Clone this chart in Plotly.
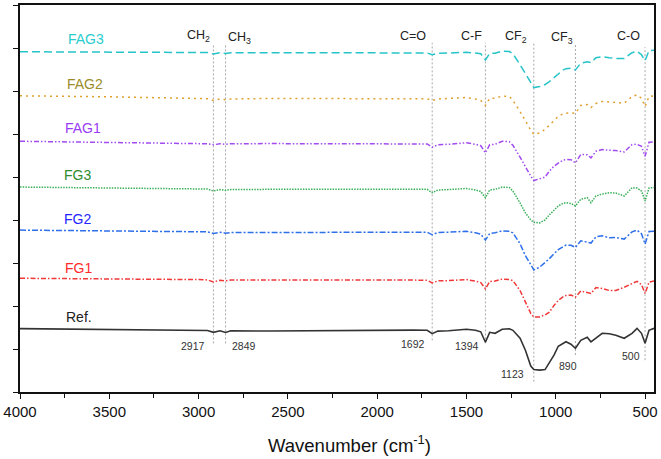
import plotly.graph_objects as go

# Wavenumber grid (cm-1)
wn = [4000, 3600, 3500, 3000, 2950, 2917, 2880, 2849, 2820, 2600, 2200, 2000, 1800, 1720,
      1692, 1660, 1600, 1500, 1450, 1420, 1394, 1370, 1340, 1300, 1260, 1240, 1200, 1170,
      1140, 1123, 1090, 1060, 1036, 1010, 986, 960, 943, 915, 890, 860, 824, 803, 775, 740,
      700, 664, 617, 573, 545, 520, 500, 478, 450]

ref = [1.474, 1.462, 1.450, 1.435, 1.430, 1.388, 1.423, 1.384, 1.423, 1.418, 1.430, 1.444,
       1.440, 1.435, 1.358, 1.416, 1.423, 1.458, 1.435, 1.400, 1.157, 1.388, 1.365, 1.458,
       1.470, 1.435, 1.249, 0.972, 0.602, 0.521, 0.509, 0.521, 0.694, 0.856, 1.064, 1.134,
       1.168, 1.111, 1.018, 1.203, 1.273, 1.168, 1.249, 1.365, 1.353, 1.319, 1.249, 1.365,
       1.481, 1.365, 1.134, 1.435, 1.481]

fg1 = [2.645, 2.638, 2.631, 2.614, 2.607, 2.561, 2.596, 2.584, 2.603, 2.607, 2.614, 2.607,
       2.603, 2.596, 2.538, 2.584, 2.591, 2.614, 2.580, 2.545, 2.400, 2.568, 2.580, 2.626,
       2.614, 2.591, 2.360, 2.082, 1.828, 1.742, 1.747, 1.793, 1.858, 2.013, 2.129, 2.210,
       2.244, 2.256, 2.205, 2.348, 2.314, 2.291, 2.429, 2.406, 2.360, 2.360, 2.436, 2.522,
       2.575, 2.499, 2.291, 2.552, 2.580]

fg2 = [3.765, 3.753, 3.748, 3.732, 3.725, 3.686, 3.714, 3.695, 3.709, 3.709, 3.714, 3.725,
       3.725, 3.718, 3.656, 3.709, 3.718, 3.737, 3.702, 3.672, 3.533, 3.686, 3.702, 3.748,
       3.737, 3.702, 3.448, 3.170, 2.962, 2.839, 2.904, 3.008, 3.100, 3.216, 3.309, 3.378,
       3.417, 3.413, 3.362, 3.517, 3.494, 3.464, 3.609, 3.633, 3.586, 3.593, 3.556, 3.725,
       3.765, 3.679, 3.441, 3.732, 3.741]

fg3 = [4.766, 4.755, 4.748, 4.727, 4.720, 4.674, 4.708, 4.690, 4.708, 4.713, 4.713, 4.720,
       4.720, 4.713, 4.634, 4.697, 4.708, 4.732, 4.697, 4.662, 4.519, 4.697, 4.713, 4.766,
       4.755, 4.674, 4.396, 4.165, 4.003, 3.945, 3.933, 4.003, 4.118, 4.234, 4.327, 4.385,
       4.403, 4.385, 4.327, 4.482, 4.519, 4.403, 4.558, 4.604, 4.634, 4.627, 4.558, 4.750,
       4.743, 4.674, 4.442, 4.743, 4.755]

fag1 = [5.831, 5.814, 5.807, 5.777, 5.773, 5.750, 5.773, 5.761, 5.773, 5.777, 5.773, 5.773,
        5.773, 5.768, 5.692, 5.750, 5.761, 5.796, 5.761, 5.727, 5.560, 5.750, 5.761, 5.831,
        5.819, 5.738, 5.460, 5.229, 5.020, 4.917, 4.951, 4.998, 5.136, 5.252, 5.322, 5.391,
        5.407, 5.403, 5.328, 5.523, 5.518, 5.444, 5.599, 5.639, 5.622, 5.615, 5.583, 5.754,
        5.761, 5.715, 5.483, 5.807, 5.819]

fag2 = [6.888, 6.872, 6.865, 6.826, 6.819, 6.779, 6.814, 6.796, 6.814, 6.826, 6.830, 6.832,
        6.826, 6.819, 6.779, 6.814, 6.826, 6.849, 6.814, 6.779, 6.663, 6.826, 6.832, 6.883,
        6.872, 6.779, 6.524, 6.293, 6.085, 5.993, 6.027, 6.108, 6.201, 6.317, 6.409, 6.467,
        6.485, 6.490, 6.479, 6.664, 6.687, 6.617, 6.710, 6.756, 6.745, 6.733, 6.717, 6.872,
        6.911, 6.826, 6.640, 6.872, 6.883]

fag3 = [7.913, 7.908, 7.906, 7.897, 7.894, 7.860, 7.890, 7.874, 7.890, 7.890, 7.890, 7.890,
        7.890, 7.885, 7.843, 7.878, 7.883, 7.901, 7.883, 7.867, 7.721, 7.874, 7.878, 7.929,
        7.918, 7.867, 7.612, 7.404, 7.196, 7.080, 7.103, 7.150, 7.219, 7.312, 7.404, 7.485,
        7.520, 7.531, 7.490, 7.647, 7.682, 7.659, 7.774, 7.797, 7.774, 7.758, 7.758, 7.890,
        7.924, 7.843, 7.705, 7.936, 7.948]

series_names = ["Ref.", "FG1", "FG2", "FG3", "FAG1", "FAG2", "FAG3"]
series_values = [ref, fg1, fg2, fg3, fag1, fag2, fag3]
line_colors = ["#333333", "#F03838", "#2E6FEA", "#3CB05A", "#A24BF0", "#E0A030", "#26C4C8"]
text_colors = ["#222222", "#FF2A2A", "#2424FF", "#2E8B2E", "#9A3CF5", "#9C8C2C", "#2ACCCC"]
dashes = ["solid", "5px,2px,1.5px,2px", "6px,2px,2px,2px", "1.5px,1.2px",
          "5px,2px,1.5px,2px,1.5px,2px", "2px,4px", "8px,4px"]
name_x = [3670, 3670, 3676, 3676, 3648, 3637, 3632]
name_y = [1.735, 2.89, 4.03, 5.04, 6.13, 7.17, 8.21]

# Peak markers
peak_wn = [2917, 2849, 1692, 1394, 1123, 890, 500]
peak_line_top = [8.06, 8.06, 8.12, 8.12, 8.10, 8.10, 8.02]
peak_line_bottom = [1.13, 1.13, 1.20, 1.13, 0.24, 0.86, 0.74]
peak_num_x = [3034, 2747, 1801, 1499, 1240, 930, 581]
peak_num_y = [1.07, 1.07, 1.11, 1.064, 0.43, 0.60, 0.84]

group_labels = ["CH<sub>2</sub>", "CH<sub>3</sub>", "C=O", "C-F", "CF<sub>2</sub>", "CF<sub>3</sub>", "C-O"]
group_x = [3000, 2772, 1801, 1471, 1220, 963, 595]
group_y = [8.27, 8.24, 8.28, 8.28, 8.26, 8.24, 8.28]

x_ticks = [4000, 3500, 3000, 2500, 2000, 1500, 1000, 500]

FONT = "Liberation Sans, Arial, sans-serif"

fig = go.Figure()

for i, w in enumerate(peak_wn):
    fig.add_shape(type="line", xref="x", yref="y", x0=w, x1=w,
                  y0=peak_line_bottom[i], y1=peak_line_top[i],
                  line=dict(color="#A8A8A8", width=1, dash="2px,2px"), layer="below")

for name, vals, lc, dsh in zip(series_names, series_values, line_colors, dashes):
    fig.add_trace(go.Scatter(x=wn, y=vals, mode="lines", name=name,
                             line=dict(color=lc, width=1.5 if name != "Ref." else 1.6, dash=dsh),
                             showlegend=False, hoverinfo="skip"))

annotations = []
for name, tc, x, y in zip(series_names, text_colors, name_x, name_y):
    annotations.append(dict(x=x, y=y, xref="x", yref="y", text=name, showarrow=False,
                            font=dict(family=FONT, size=14, color=tc)))
for lab, x, y in zip(group_labels, group_x, group_y):
    annotations.append(dict(x=x, y=y, xref="x", yref="y", text=lab, showarrow=False,
                            font=dict(family=FONT, size=12.5, color="#222222")))
for w, x, y in zip(peak_wn, peak_num_x, peak_num_y):
    annotations.append(dict(x=x, y=y, xref="x", yref="y", text=str(w), showarrow=False,
                            font=dict(family=FONT, size=10.5, color="#333333")))
annotations.append(dict(x=0.52, y=-0.17, xref="paper", yref="paper",
                        text="Wavenumber (cm<sup>-1</sup>)", showarrow=False,
                        font=dict(family=FONT, size=18.5, color="#111111")))

fig.update_layout(
    width=661, height=459,
    margin=dict(l=19, r=6, t=3, b=67),
    plot_bgcolor="white", paper_bgcolor="white",
    annotations=annotations,
    font=dict(family=FONT),
)
fig.update_xaxes(range=[4000, 450], tickvals=x_ticks, ticktext=[str(t) for t in x_ticks],
                 ticks="outside", ticklen=5, tickwidth=1.3, tickcolor="#111111",
                 minor=dict(dtick=250, tick0=0, ticks="outside", ticklen=4, tickwidth=1.2,
                            tickcolor="#111111", showgrid=False),
                 showline=True, linecolor="#111111", linewidth=1.6, mirror=True,
                 showgrid=False, zeroline=False,
                 tickfont=dict(family=FONT, size=15, color="#111111"))
fig.update_yaxes(range=[0, 9], dtick=1, tick0=0, ticks="outside", ticklen=5, tickwidth=1.3,
                 tickcolor="#111111", showticklabels=False,
                 showline=True, linecolor="#111111", linewidth=1.6, mirror=True,
                 showgrid=False, zeroline=False)

fig.write_html("out.html")
